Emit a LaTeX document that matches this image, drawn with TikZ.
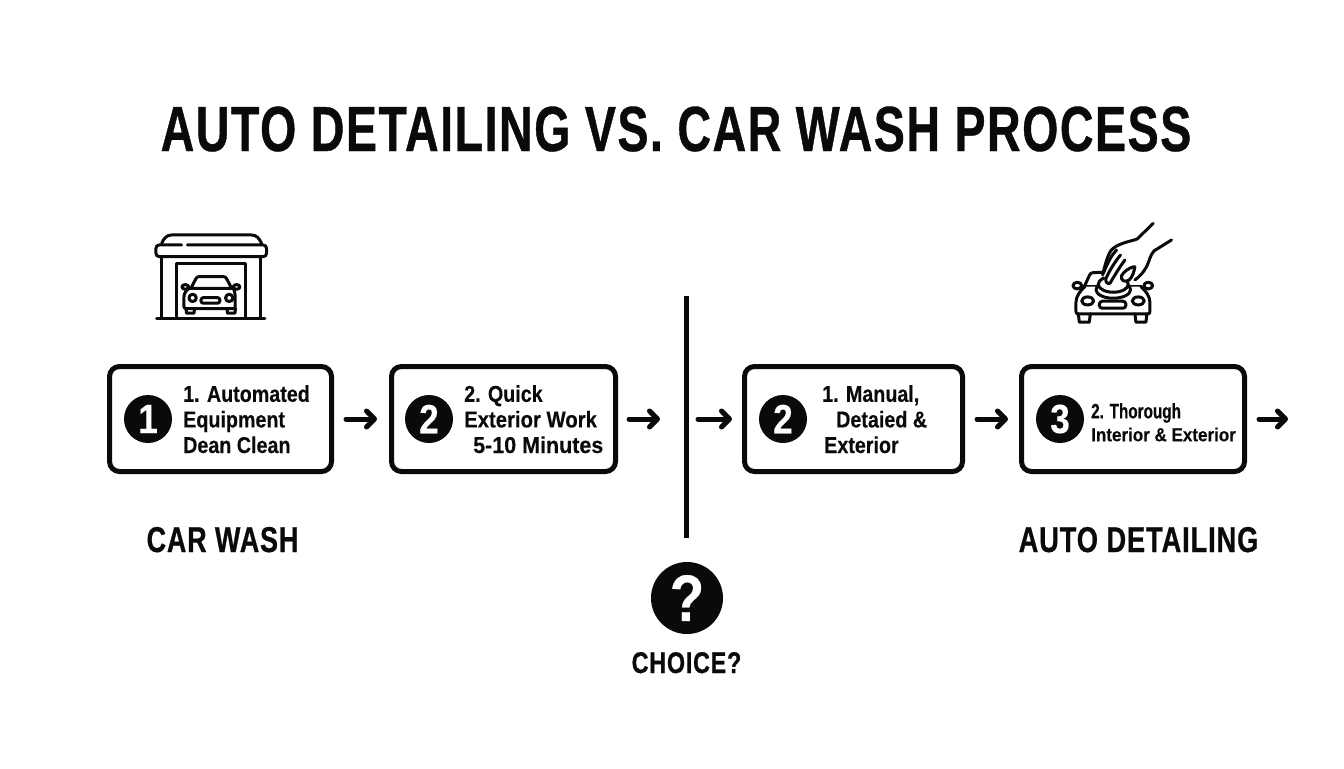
\documentclass[tikz,border=0pt]{standalone}
\usepackage{fontspec}
\usetikzlibrary{arrows.meta}
\setmainfont[FakeStretch=0.86,FakeBold=0.25]{Liberation Sans Bold}
\newfontfamily\headfont[FakeStretch=0.73,LetterSpace=2.4,FakeBold=0.6]{Liberation Sans Bold}
\definecolor{ink}{HTML}{0A0A0A}
\tikzset{
 stepbox/.style={draw=ink,line width=5bp,rounded corners=10bp,fill=white,minimum height=105bp,anchor=west,inner sep=0pt},
 badge/.style={circle,fill=ink,minimum size=48bp,inner sep=0pt,text=white,font=\fontsize{41}{41}\selectfont},
 flowarrow/.style={draw=ink,line width=5bp,line cap=round,-{Straight Barb[length=8bp,width=16bp,round]}},
 boxtext/.style={anchor=north west,align=left,inner sep=0pt,text=ink,font=\fontsize{23}{25.7}\selectfont},
 heading/.style={anchor=base,inner sep=0pt,text=ink,font=\fontsize{36}{36}\headfont},
 iconline/.style={draw=ink,line width=3bp,line cap=round,line join=round},
}
\begin{document}
\begin{tikzpicture}[x=1bp,y=-1bp]
\path[use as bounding box,fill=white] (0,0) rectangle (1344,768);
\node[anchor=base,inner sep=0pt,text=ink,font=\fontsize{64}{64}\headfont] (title) at (676,151) {AUTO DETAILING VS. CAR WASH PROCESS};

\node[stepbox,minimum width=222bp] (b1) at (107,419) {};
\node[stepbox,minimum width=224bp] (b2) at (389,419) {};
\node[stepbox,minimum width=218bp] (b3) at (742,419) {};
\node[stepbox,minimum width=223bp] (b4) at (1019,419) {};

\node[badge] (c1) at (148,419) {1};
\node[badge] (c2) at (429,419) {2};
\node[badge] (c3) at (783,419) {2};
\node[badge] (c4) at (1060,419) {3};

\node[boxtext] (t1) at (183,385) {1. Automated\\Equipment\\Dean Clean};
\node[boxtext] (t2) at (464,385) {2. Quick\\\scalebox{1.03}[1]{Exterior Work}\\\hspace*{9bp}\scalebox{1.09}[1]{5-10 Minutes}};
\node[boxtext] (t3) at (822,385) {1. Manual,\\\hspace*{14bp}Detaied \&\\\hspace*{2bp}Exterior};
\node[anchor=north west,align=left,inner sep=0pt,text=ink,font=\fontsize{21}{23}\selectfont] (t4) at (1091,403) {\scalebox{0.85}[1]{2. Thorough}\\[0pt]{\fontsize{19}{23}\selectfont\scalebox{1.045}[1]{Interior \& Exterior}}};

\node[fill=ink,minimum width=5bp,minimum height=242bp,inner sep=0pt] (div) at (686,417) {};
\coordinate (end) at (1288,419);

\draw[flowarrow,shorten <=12bp,shorten >=12bp] (b1.east) -- (b2.west);
\draw[flowarrow,shorten <=11bp] (b2.east) -- ([xshift=-26bp]b2.east -| div.center);
\draw[flowarrow,shorten <=12bp,shorten >=10bp] (div.center |- b3.west) -- (b3.west);
\draw[flowarrow,shorten <=12bp,shorten >=11bp] (b3.east) -- (b4.west);
\draw[flowarrow,shorten <=12bp] (b4.east) -- (end);

\node[heading] (carwash) at (222.5,552) {\scalebox{1.027}[1]{CAR WASH}};
\node[heading] (autodet) at (1138.5,552) {\scalebox{1.04}[1]{AUTO DETAILING}};

\node[circle,fill=ink,minimum size=72bp,inner sep=0pt,text=white,font=\fontsize{66}{66}\selectfont] (q) at (687,598) {?};
\node[anchor=base,inner sep=0pt,text=ink,font=\fontsize{30}{30}\headfont] (choice) at (686.5,673) {\scalebox{1.07}[1]{CHOICE?}};

% garage icon
\begin{scope}[shift={(130,220)},x=0.333bp,y=-0.333bp]
 \draw[iconline] (95,70) .. controls (102,55) and (110,45) .. (125,45) -- (365,45) .. controls (380,45) and (388,55) .. (395,70);
 \draw[iconline] (155,75) -- (88,75) .. controls (80,75) and (78,80) .. (78,85) -- (78,100) .. controls (78,106) and (82,110) .. (88,110) -- (400,110) .. controls (406,110) and (410,106) .. (410,100) -- (410,85) .. controls (410,80) and (406,75) .. (400,75) -- (172,75);
 \draw[iconline] (95,110) -- (95,295) (392,110) -- (392,295);
 \draw[iconline] (140,295) -- (140,130) -- (348,130) -- (348,295);
 \draw[iconline] (80,297) -- (405,297);
 \draw[iconline] (183,205) -- (198,176) .. controls (200,172) and (203,170) .. (208,170) -- (280,170) .. controls (285,170) and (288,172) .. (290,176) -- (305,205);
 \draw[iconline,fill=white] (166,201) ellipse [x radius=10,y radius=7];
 \draw[iconline,fill=white] (320,201) ellipse [x radius=10,y radius=7];
 \draw[iconline,fill=white] (178,205) -- (310,205) .. controls (316,215) and (316,230) .. (316,240) -- (316,262) .. controls (316,265) and (314,266) .. (310,266) -- (170,266) .. controls (165,266) and (162,265) .. (162,260) -- (162,232) .. controls (162,220) and (168,212) .. (178,205);
 \draw[iconline] (188,234) circle [radius=11];
 \draw[iconline] (298,234) circle [radius=11];
 \draw[iconline,rounded corners=2.5bp] (213,233) rectangle (270,250);
 \draw[iconline] (168,266) -- (170,280) -- (192,280) -- (194,266);
 \draw[iconline] (291,266) -- (293,280) -- (315,280) -- (317,266);
\end{scope}

% detailing icon
\begin{scope}[shift={(1050,215)},x=0.333bp,y=-0.333bp]
 \draw[iconline] (103,215) -- (118,182) .. controls (120,176) and (124,173) .. (130,173) -- (165,172);
 \draw[iconline] (103,215) -- (275,215);
 \draw[iconline,fill=white] (82,212) ellipse [x radius=13,y radius=10];
 \draw[iconline,fill=white] (295,212) ellipse [x radius=13,y radius=10];
 \draw[iconline,fill=white] (105,215) .. controls (90,228) and (78,245) .. (78,262) -- (78,290) .. controls (78,295) and (80,297) .. (85,297) -- (293,297) .. controls (298,297) and (300,295) .. (300,290) -- (300,262) .. controls (300,245) and (288,228) .. (273,215);
 \draw[iconline] (113,258) ellipse [x radius=18,y radius=12];
 \draw[iconline] (265,258) ellipse [x radius=18,y radius=12];
 \draw[iconline,rounded corners=3bp] (148,259) rectangle (228,280);
 \draw[iconline] (85,297) -- (88,322) -- (118,322) -- (121,297);
 \draw[iconline] (255,297) -- (258,322) -- (288,322) -- (291,297);
 \draw[iconline,fill=white] (190,224) ellipse [x radius=52,y radius=26];
 \draw[iconline,fill=white] (190,208) ellipse [x radius=45,y radius=24];
 % hand
 \fill[white] (262,72) .. controls (225,85) and (195,90) .. (180,110) -- (160,180) -- (180,215) -- (250,195) -- (285,175) -- (310,110) -- (330,90) -- (290,50) -- cycle;
 \draw[iconline] (310,25) -- (262,72) .. controls (240,80) and (200,85) .. (182,108) .. controls (172,125) and (165,150) .. (158,180);
 \draw[iconline] (365,75) -- (312,108) .. controls (300,122) and (298,140) .. (290,155) .. controls (282,170) and (270,185) .. (255,195);
 \draw[iconline] (200,105) .. controls (185,120) and (175,140) .. (160,175);
 \draw[iconline] (212,120) .. controls (195,140) and (180,165) .. (168,190) .. controls (165,200) and (172,208) .. (180,205);
 \draw[iconline] (225,135) .. controls (210,155) and (195,180) .. (180,205);
 \draw[iconline] (252,155) .. controls (235,160) and (222,170) .. (215,182) .. controls (210,195) and (225,205) .. (238,195) .. controls (248,185) and (252,172) .. (255,155);
\end{scope}
\end{tikzpicture}
\end{document}
